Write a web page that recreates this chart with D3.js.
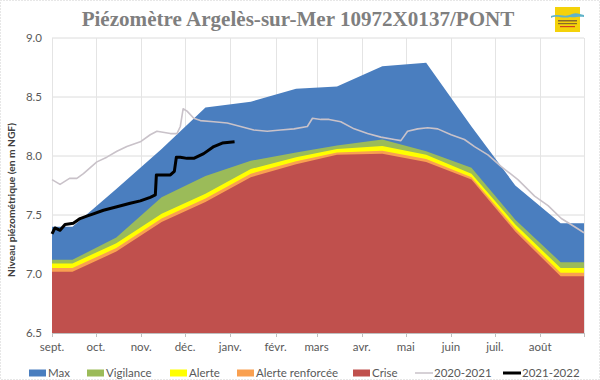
<!DOCTYPE html>
<html><head><meta charset="utf-8">
<script src="https://cdn.jsdelivr.net/npm/d3@7/dist/d3.min.js"></script>
<style>
html,body{margin:0;padding:0;background:#fff;}
svg{display:block;}
</style></head>
<body>
<svg id="chart" width="600" height="380"></svg>
<script>
// ---------- DATA ----------
const titleText = "Piézomètre Argelès-sur-Mer 10972X0137/PONT";
const yAxisTitle = "Niveau piézométrique (en m NGF)";
const monthLabels = ["sept.","oct.","nov.","déc.","janv.","févr.","mars","avr.","mai","juin","juil.","août"];
const yTicks = [6.5, 7.0, 7.5, 8.0, 8.5, 9.0];

const areaDates = ["2021-09-01","2021-09-15","2021-10-15","2021-11-15","2021-12-15","2022-01-15","2022-02-15",
                   "2022-03-15","2022-04-15","2022-05-15","2022-06-15","2022-07-15","2022-08-15","2022-08-31"];
const maxVals     = [7.40,7.40,7.72,8.06,8.41,8.46,8.57,8.59,8.76,8.79,8.25,7.75,7.43,7.43];
const vigVals     = [7.12,7.12,7.31,7.65,7.83,7.96,8.03,8.09,8.14,8.04,7.90,7.46,7.10,7.10];
const alerteVals  = [7.09,7.09,7.26,7.51,7.68,7.89,7.99,8.06,8.085,8.01,7.85,7.42,7.05,7.05];
const arVals      = [7.05,7.05,7.22,7.47,7.64,7.85,7.955,8.03,8.045,7.975,7.82,7.385,7.01,7.01];
const criseVals   = [7.02,7.02,7.19,7.44,7.61,7.82,7.93,8.01,8.02,7.95,7.80,7.36,6.98,6.98];

// days since 1 September
const y2021Days = [0,5.5,12,17,21.5,26,30.7,37.5,44.4,51.2,60.4,67.2,71.8,81,85.5,87.8,89.7,92.4,97,101.5,110.7,119.9,129,138.1,147.3,156.4,165.6,174.7,178.2,183.9,189.6,197.6,206.7,215.9,225,234.2,238.7,243.3,250.2,257.1,263.9,273.1,282.2,289.1,298.3,307.4,318.8,330.2,339.4,348.5,357.6,364];
const y2021Vals = [7.80,7.76,7.81,7.81,7.85,7.90,7.95,7.99,8.04,8.08,8.12,8.18,8.21,8.19,8.19,8.25,8.40,8.38,8.32,8.30,8.29,8.28,8.25,8.22,8.21,8.22,8.23,8.25,8.32,8.31,8.31,8.29,8.23,8.19,8.16,8.14,8.13,8.21,8.23,8.24,8.23,8.18,8.14,8.08,8.01,7.91,7.80,7.66,7.58,7.47,7.40,7.35];

const y2022Days = [0,2,5.5,8.9,14.6,19.2,23.8,28.3,35.2,44.4,53.5,60.4,67.2,70.7,71.4,81,83.7,85.1,87.8,92.4,97,103.8,110.7,116.5,124.9];
const y2022Vals = [7.34,7.39,7.37,7.42,7.43,7.47,7.49,7.51,7.54,7.57,7.60,7.62,7.65,7.67,7.84,7.84,7.87,7.99,7.99,7.98,7.98,8.02,8.08,8.11,8.12];

const legendNames = ["Max","Vigilance","Alerte","Alerte renforcée","Crise","2020-2021","2021-2022"];
const colors = {Max:"#4a7ebf", Vigilance:"#9bbb59", Alerte:"#ffff00", "Alerte renforcée":"#f9a050", Crise:"#c0504d", "2020-2021":"#c9c2c9", "2021-2022":"#000000"};

// ---------- SETUP ----------
const svg = d3.select("#chart");
const W = 600, H = 380;
const pL = 52, pR = 584, pT = 38, pB = 333;
const parse = d3.timeParse("%Y-%m-%d");
const start = parse("2021-09-01"), end = parse("2022-08-31");
const x = d3.scaleTime().domain([start, end]).range([pL, pR]);
const y = d3.scaleLinear().domain([6.5, 9.0]).range([pB, pT]);

svg.append("rect").attr("x",0.5).attr("y",0.5).attr("width",W-1).attr("height",H-1)
  .attr("fill","#fff").attr("stroke","#cfcfcf").attr("stroke-dasharray","1,2");

// gridlines
const months = d3.timeMonth.range(start, parse("2022-09-01"));
svg.append("g").selectAll("line").data(yTicks).join("line")
  .attr("x1",pL).attr("x2",pR).attr("y1",d=>y(d)).attr("y2",d=>y(d))
  .attr("stroke","#dcdcdc").attr("stroke-width",1);
svg.append("g").selectAll("line").data(months.concat([end])).join("line")
  .attr("x1",d=>Math.round(x(d))+0.5).attr("x2",d=>Math.round(x(d))+0.5).attr("y1",pT).attr("y2",pB)
  .attr("stroke","#e4e4e4").attr("stroke-width",1);

// areas
const areaDatesP = areaDates.map(parse);
function drawArea(vals, color){
  const data = areaDatesP.map((d,i)=>({d, v: vals[i]}));
  const a = d3.area().x(p=>x(p.d)).y0(y(6.5)).y1(p=>y(p.v));
  svg.append("path").datum(data).attr("d", a).attr("fill", color);
}
drawArea(maxVals, colors.Max);
drawArea(vigVals, colors.Vigilance);
drawArea(alerteVals, colors.Alerte);
drawArea(arVals, colors["Alerte renforcée"]);
drawArea(criseVals, colors.Crise);

// lines
function drawLine(days, vals, color, w){
  const data = days.map((d,i)=>({d: d3.timeHour.offset(start, Math.round(d*24)), v: vals[i]}));
  const l = d3.line().x(p=>x(p.d)).y(p=>y(p.v));
  svg.append("path").datum(data).attr("d", l).attr("fill","none").attr("stroke",color)
    .attr("stroke-width",w).attr("stroke-linejoin","round");
}
drawLine(y2021Days, y2021Vals, colors["2020-2021"], 1.6);
drawLine(y2022Days, y2022Vals, colors["2021-2022"], 3);

// x axis
svg.append("line").attr("x1",pL).attr("x2",pR).attr("y1",pB+0.5).attr("y2",pB+0.5)
  .attr("stroke","#bfbfbf");
svg.append("g").selectAll("line").data(months.concat([end])).join("line")
  .attr("x1",d=>Math.round(x(d))+0.5).attr("x2",d=>Math.round(x(d))+0.5)
  .attr("y1",pB).attr("y2",pB+4).attr("stroke","#bfbfbf");
svg.append("g").selectAll("text").data(months).join("text")
  .attr("x",d=>x(d)).attr("y",pB+18).attr("text-anchor","middle")
  .attr("font-family","Lato, 'Liberation Sans', sans-serif").attr("font-size",11.5).attr("fill","#595959")
  .text((d,i)=>monthLabels[i]);

// y axis labels
svg.append("g").selectAll("text").data(yTicks).join("text")
  .attr("x",42).attr("y",d=>y(d)+4).attr("text-anchor","end")
  .attr("font-family","Lato, 'Liberation Sans', sans-serif").attr("font-size",11.5).attr("fill","#595959")
  .text(d=>d.toFixed(1));

// y axis title
const yt = svg.append("text").attr("transform","translate(15,200) rotate(-90)")
  .attr("text-anchor","middle").attr("font-family","Lato, 'Liberation Sans', sans-serif")
  .attr("font-weight","bold").attr("font-size",10.5).attr("fill","#404040").text(yAxisTitle);
const ytl = yt.node().getComputedTextLength();
if (ytl) yt.attr("font-size", 10.5*154/ytl);

// title
const tt = svg.append("text").attr("x",298).attr("y",26).attr("text-anchor","middle")
  .attr("font-family","'Liberation Serif','DejaVu Serif',serif").attr("font-weight","bold")
  .attr("font-size",20).attr("fill","#7f7f7f").text(titleText);
const ttl = tt.node().getComputedTextLength();
if (ttl) tt.attr("font-size", 20*433/ttl);

// logo
const lg = svg.append("g");
lg.append("rect").attr("x",555).attr("y",7).attr("width",25).attr("height",25).attr("fill","#f4d20a");
lg.append("path").attr("d","M551,16 C558,13 565,18 572,14 C576,12 580,14 584,15 L584,17 C578,16 575,18 570,17 C563,19 557,15 551,18 Z").attr("fill","#5fb3c9");
lg.append("rect").attr("x",558).attr("y",20).attr("width",19).attr("height",1.5).attr("fill","#8a6a2a");
lg.append("rect").attr("x",558).attr("y",23).attr("width",19).attr("height",1.2).attr("fill","#8a6a2a");
lg.append("rect").attr("x",560).attr("y",26).attr("width",15).attr("height",1.2).attr("fill","#d04020");

// legend
const legX = {Max:29, Vigilance:87, Alerte:170, "Alerte renforcée":237, Crise:353, "2020-2021":415, "2021-2022":503};
const legY = 373;
const lgG = svg.append("g");
legendNames.forEach(n=>{
  const x0 = legX[n];
  if (n === "2020-2021" || n === "2021-2022") {
    lgG.append("line").attr("x1",x0).attr("x2",x0+18).attr("y1",legY).attr("y2",legY)
      .attr("stroke",colors[n]).attr("stroke-width", n==="2021-2022"?3:1.5);
  } else {
    lgG.append("rect").attr("x",x0).attr("y",legY-3.5).attr("width",17).attr("height",7).attr("fill",colors[n]);
  }
  lgG.append("text").attr("x",x0+19).attr("y",legY+4).attr("font-family","Lato, 'Liberation Sans', sans-serif")
    .attr("font-size",11.5).attr("fill","#595959").text(n);
});
</script>
</body></html>
